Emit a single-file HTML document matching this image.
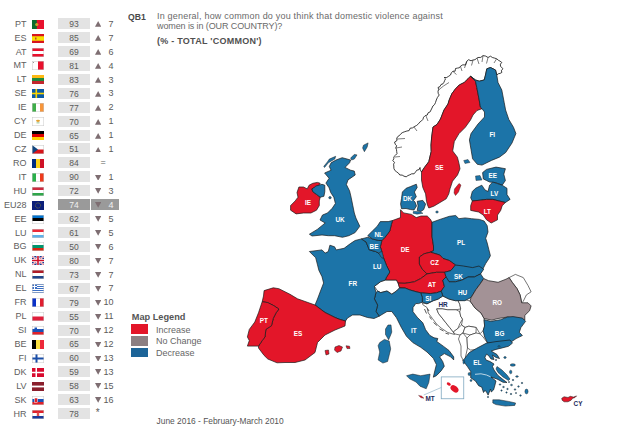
<!DOCTYPE html>
<html><head><meta charset="utf-8"><style>
html,body{margin:0;padding:0;background:#fff;}
body{width:640px;height:432px;position:relative;overflow:hidden;font-family:"Liberation Sans",sans-serif;}
.row{position:absolute;left:0;width:125px;height:11px;}
.cc{position:absolute;right:98.5px;top:0.6px;font-size:9px;line-height:11px;color:#606060;}
.flag{position:absolute;left:32px;top:1.5px;}
.val{position:absolute;left:57.7px;top:0;width:32.2px;height:11.1px;background:#e3e3e3;text-align:center;font-size:8.5px;line-height:12.2px;color:#5a5a5a;padding-left:0.5px;box-sizing:border-box;}
.eu .val{background:#9a9a9a;color:#f0f0f0;}
.chg{position:absolute;left:91.3px;top:0;width:27.3px;height:11.1px;background:#9a9a9a;}
.tri{position:absolute;left:94.8px;top:3.3px;}
.num{position:absolute;right:11.5px;top:0.8px;font-size:9px;line-height:11px;color:#5a5a5a;}
.eu .num{color:#f0f0f0;}
.eq{position:absolute;left:100.5px;top:0;font-size:9px;line-height:11px;color:#5a5a5a;}
.star{position:absolute;left:95.8px;top:-1.3px;font-size:10px;line-height:11px;color:#5a5a5a;}
.t{position:absolute;white-space:nowrap;}
</style></head><body>
<div class="row" style="top:18.1px"><span class="cc">PT</span><svg class="flag" width="12" height="9" viewBox="0 0 12 9"><rect width="12" height="9" fill="#e8112d"/><rect width="4.8" height="9" fill="#0b6b2e"/><circle cx="4.8" cy="4.5" r="1.6" fill="#c9a227"/></svg><span class="val">93</span><svg class="tri" width="6.3" height="5.8" viewBox="0 0 7 6" preserveAspectRatio="none"><polygon points="3.5,0 7,6 0,6" fill="#7e6e72"/></svg><span class="num">7</span></div><div class="row" style="top:32.0px"><span class="cc">ES</span><svg class="flag" width="12" height="9" viewBox="0 0 12 9"><rect width="12" height="9" fill="#d8141e"/><rect y="2.25" width="12" height="4.5" fill="#f8e000"/><rect x="3" y="3.5" width="1.5" height="2" fill="#c0462a"/></svg><span class="val">85</span><svg class="tri" width="6.3" height="5.8" viewBox="0 0 7 6" preserveAspectRatio="none"><polygon points="3.5,0 7,6 0,6" fill="#7e6e72"/></svg><span class="num">7</span></div><div class="row" style="top:46.0px"><span class="cc">AT</span><svg class="flag" width="12" height="9" viewBox="0 0 12 9"><rect x="0" y="0.00" width="12" height="3.05" fill="#e8112d"/><rect x="0" y="3.00" width="12" height="3.05" fill="#ffffff"/><rect x="0" y="6.00" width="12" height="3.05" fill="#e8112d"/><rect x="0.25" y="0.25" width="11.5" height="8.5" fill="none" stroke="#c8c8c8" stroke-width="0.5"/></svg><span class="val">69</span><svg class="tri" width="6.3" height="5.8" viewBox="0 0 7 6" preserveAspectRatio="none"><polygon points="3.5,0 7,6 0,6" fill="#7e6e72"/></svg><span class="num">6</span></div><div class="row" style="top:59.9px"><span class="cc">MT</span><svg class="flag" width="12" height="9" viewBox="0 0 12 9"><rect width="12" height="9" fill="#e8112d"/><rect width="6" height="9" fill="#fff"/><rect x="1" y="1" width="1" height="1" fill="#999"/><rect x="0.25" y="0.25" width="11.5" height="8.5" fill="none" stroke="#c8c8c8" stroke-width="0.5"/></svg><span class="val">81</span><svg class="tri" width="6.3" height="5.8" viewBox="0 0 7 6" preserveAspectRatio="none"><polygon points="3.5,0 7,6 0,6" fill="#7e6e72"/></svg><span class="num">4</span></div><div class="row" style="top:73.8px"><span class="cc">LT</span><svg class="flag" width="12" height="9" viewBox="0 0 12 9"><rect x="0" y="0.00" width="12" height="3.05" fill="#fdb913"/><rect x="0" y="3.00" width="12" height="3.05" fill="#1d8a3e"/><rect x="0" y="6.00" width="12" height="3.05" fill="#c1272d"/></svg><span class="val">83</span><svg class="tri" width="6.3" height="5.8" viewBox="0 0 7 6" preserveAspectRatio="none"><polygon points="3.5,0 7,6 0,6" fill="#7e6e72"/></svg><span class="num">3</span></div><div class="row" style="top:87.7px"><span class="cc">SE</span><svg class="flag" width="12" height="9" viewBox="0 0 12 9"><rect width="12" height="9" fill="#0a5aa6"/><rect x="3.5" width="1.6" height="9" fill="#f9d400"/><rect y="3.7" width="12" height="1.6" fill="#f9d400"/></svg><span class="val">76</span><svg class="tri" width="6.3" height="5.8" viewBox="0 0 7 6" preserveAspectRatio="none"><polygon points="3.5,0 7,6 0,6" fill="#7e6e72"/></svg><span class="num">3</span></div><div class="row" style="top:101.7px"><span class="cc">IE</span><svg class="flag" width="12" height="9" viewBox="0 0 12 9"><rect x="0.00" y="0" width="4.05" height="9" fill="#3fae49"/><rect x="4.00" y="0" width="4.05" height="9" fill="#ffffff"/><rect x="8.00" y="0" width="4.05" height="9" fill="#f7953a"/><rect x="0.25" y="0.25" width="11.5" height="8.5" fill="none" stroke="#c8c8c8" stroke-width="0.5"/></svg><span class="val">77</span><svg class="tri" width="6.3" height="5.8" viewBox="0 0 7 6" preserveAspectRatio="none"><polygon points="3.5,0 7,6 0,6" fill="#7e6e72"/></svg><span class="num">2</span></div><div class="row" style="top:115.6px"><span class="cc">CY</span><svg class="flag" width="12" height="9" viewBox="0 0 12 9"><rect width="12" height="9" fill="#fff"/><ellipse cx="6" cy="3.8" rx="2" ry="1.1" fill="#e0a030"/><rect x="4.5" y="5.5" width="3" height="0.8" fill="#7ab070"/><rect x="0.25" y="0.25" width="11.5" height="8.5" fill="none" stroke="#c8c8c8" stroke-width="0.5"/></svg><span class="val">70</span><svg class="tri" width="6.3" height="5.8" viewBox="0 0 7 6" preserveAspectRatio="none"><polygon points="3.5,0 7,6 0,6" fill="#7e6e72"/></svg><span class="num">1</span></div><div class="row" style="top:129.5px"><span class="cc">DE</span><svg class="flag" width="12" height="9" viewBox="0 0 12 9"><rect x="0" y="0.00" width="12" height="3.05" fill="#000000"/><rect x="0" y="3.00" width="12" height="3.05" fill="#dd0000"/><rect x="0" y="6.00" width="12" height="3.05" fill="#ffce00"/></svg><span class="val">65</span><svg class="tri" width="6.3" height="5.8" viewBox="0 0 7 6" preserveAspectRatio="none"><polygon points="3.5,0 7,6 0,6" fill="#7e6e72"/></svg><span class="num">1</span></div><div class="row" style="top:143.4px"><span class="cc">CZ</span><svg class="flag" width="12" height="9" viewBox="0 0 12 9"><rect width="12" height="9" fill="#fff"/><rect y="4.5" width="12" height="4.5" fill="#d7141a"/><polygon points="0,0 6,4.5 0,9" fill="#11457e"/><rect x="0.25" y="0.25" width="11.5" height="8.5" fill="none" stroke="#c8c8c8" stroke-width="0.5"/></svg><span class="val">51</span><svg class="tri" width="6.3" height="5.8" viewBox="0 0 7 6" preserveAspectRatio="none"><polygon points="3.5,0 7,6 0,6" fill="#7e6e72"/></svg><span class="num">1</span></div><div class="row" style="top:157.3px"><span class="cc">RO</span><svg class="flag" width="12" height="9" viewBox="0 0 12 9"><rect x="0.00" y="0" width="4.05" height="9" fill="#002b7f"/><rect x="4.00" y="0" width="4.05" height="9" fill="#fcd116"/><rect x="8.00" y="0" width="4.05" height="9" fill="#ce1126"/></svg><span class="val">84</span><span class="eq">=</span><span class="num"></span></div><div class="row" style="top:171.3px"><span class="cc">IT</span><svg class="flag" width="12" height="9" viewBox="0 0 12 9"><rect x="0.00" y="0" width="4.05" height="9" fill="#2ab04a"/><rect x="4.00" y="0" width="4.05" height="9" fill="#ffffff"/><rect x="8.00" y="0" width="4.05" height="9" fill="#ee3a1c"/><rect x="0.25" y="0.25" width="11.5" height="8.5" fill="none" stroke="#c8c8c8" stroke-width="0.5"/></svg><span class="val">90</span><svg class="tri" width="6.3" height="5.8" viewBox="0 0 7 6" preserveAspectRatio="none"><polygon points="0,0 7,0 3.5,6" fill="#7e6e72"/></svg><span class="num">1</span></div><div class="row" style="top:185.2px"><span class="cc">HU</span><svg class="flag" width="12" height="9" viewBox="0 0 12 9"><rect x="0" y="0.00" width="12" height="3.05" fill="#cd2a3e"/><rect x="0" y="3.00" width="12" height="3.05" fill="#ffffff"/><rect x="0" y="6.00" width="12" height="3.05" fill="#2fa64a"/><rect x="0.25" y="0.25" width="11.5" height="8.5" fill="none" stroke="#c8c8c8" stroke-width="0.5"/></svg><span class="val">72</span><svg class="tri" width="6.3" height="5.8" viewBox="0 0 7 6" preserveAspectRatio="none"><polygon points="0,0 7,0 3.5,6" fill="#7e6e72"/></svg><span class="num">3</span></div><div class="row eu" style="top:199.1px"><span class="cc">EU28</span><svg class="flag" width="12" height="9" viewBox="0 0 12 9"><rect width="12" height="9" fill="#0c1f7a"/><circle cx="6" cy="4.5" r="2.6" fill="none" stroke="#d4c000" stroke-width="0.6" stroke-dasharray="0.6 0.75"/></svg><span class="val">74</span><span class="chg"></span><svg class="tri" width="6.3" height="5.8" viewBox="0 0 7 6" preserveAspectRatio="none"><polygon points="0,0 7,0 3.5,6" fill="#7e6e72"/></svg><span class="num">4</span></div><div class="row" style="top:213.1px"><span class="cc">EE</span><svg class="flag" width="12" height="9" viewBox="0 0 12 9"><rect x="0" y="0.00" width="12" height="3.05" fill="#0072ce"/><rect x="0" y="3.00" width="12" height="3.05" fill="#000000"/><rect x="0" y="6.00" width="12" height="3.05" fill="#ffffff"/><rect x="0.25" y="0.25" width="11.5" height="8.5" fill="none" stroke="#c8c8c8" stroke-width="0.5"/></svg><span class="val">62</span><svg class="tri" width="6.3" height="5.8" viewBox="0 0 7 6" preserveAspectRatio="none"><polygon points="0,0 7,0 3.5,6" fill="#7e6e72"/></svg><span class="num">5</span></div><div class="row" style="top:227.0px"><span class="cc">LU</span><svg class="flag" width="12" height="9" viewBox="0 0 12 9"><rect x="0" y="0.00" width="12" height="3.05" fill="#ed2939"/><rect x="0" y="3.00" width="12" height="3.05" fill="#ffffff"/><rect x="0" y="6.00" width="12" height="3.05" fill="#5fb0e8"/><rect x="0.25" y="0.25" width="11.5" height="8.5" fill="none" stroke="#c8c8c8" stroke-width="0.5"/></svg><span class="val">61</span><svg class="tri" width="6.3" height="5.8" viewBox="0 0 7 6" preserveAspectRatio="none"><polygon points="0,0 7,0 3.5,6" fill="#7e6e72"/></svg><span class="num">5</span></div><div class="row" style="top:240.9px"><span class="cc">BG</span><svg class="flag" width="12" height="9" viewBox="0 0 12 9"><rect x="0" y="0.00" width="12" height="3.05" fill="#ffffff"/><rect x="0" y="3.00" width="12" height="3.05" fill="#00966e"/><rect x="0" y="6.00" width="12" height="3.05" fill="#d62612"/><rect x="0.25" y="0.25" width="11.5" height="8.5" fill="none" stroke="#c8c8c8" stroke-width="0.5"/></svg><span class="val">50</span><svg class="tri" width="6.3" height="5.8" viewBox="0 0 7 6" preserveAspectRatio="none"><polygon points="0,0 7,0 3.5,6" fill="#7e6e72"/></svg><span class="num">6</span></div><div class="row" style="top:254.8px"><span class="cc">UK</span><svg class="flag" width="12" height="9" viewBox="0 0 12 9"><rect width="12" height="9" fill="#1a3a8f"/><path d="M0,0L12,9M12,0L0,9" stroke="#fff" stroke-width="1.8"/><path d="M0,0L12,9M12,0L0,9" stroke="#d0102a" stroke-width="0.6"/><path d="M6,0V9M0,4.5H12" stroke="#fff" stroke-width="3"/><path d="M6,0V9M0,4.5H12" stroke="#d0102a" stroke-width="1.6"/></svg><span class="val">80</span><svg class="tri" width="6.3" height="5.8" viewBox="0 0 7 6" preserveAspectRatio="none"><polygon points="0,0 7,0 3.5,6" fill="#7e6e72"/></svg><span class="num">7</span></div><div class="row" style="top:268.8px"><span class="cc">NL</span><svg class="flag" width="12" height="9" viewBox="0 0 12 9"><rect x="0" y="0.00" width="12" height="3.05" fill="#ae1c28"/><rect x="0" y="3.00" width="12" height="3.05" fill="#ffffff"/><rect x="0" y="6.00" width="12" height="3.05" fill="#21468b"/><rect x="0.25" y="0.25" width="11.5" height="8.5" fill="none" stroke="#c8c8c8" stroke-width="0.5"/></svg><span class="val">73</span><svg class="tri" width="6.3" height="5.8" viewBox="0 0 7 6" preserveAspectRatio="none"><polygon points="0,0 7,0 3.5,6" fill="#7e6e72"/></svg><span class="num">7</span></div><div class="row" style="top:282.7px"><span class="cc">EL</span><svg class="flag" width="12" height="9" viewBox="0 0 12 9"><rect width="12" height="9" fill="#3b6fc4"/><rect y="1" width="12" height="1" fill="#fff"/><rect y="3" width="12" height="1" fill="#fff"/><rect y="5" width="12" height="1" fill="#fff"/><rect y="7" width="12" height="1" fill="#fff"/><rect width="5" height="5" fill="#3b6fc4"/><rect x="2" width="1" height="5" fill="#fff"/><rect y="2" width="5" height="1" fill="#fff"/><rect x="0.25" y="0.25" width="11.5" height="8.5" fill="none" stroke="#c8c8c8" stroke-width="0.5"/></svg><span class="val">67</span><svg class="tri" width="6.3" height="5.8" viewBox="0 0 7 6" preserveAspectRatio="none"><polygon points="0,0 7,0 3.5,6" fill="#7e6e72"/></svg><span class="num">7</span></div><div class="row" style="top:296.6px"><span class="cc">FR</span><svg class="flag" width="12" height="9" viewBox="0 0 12 9"><rect x="0.00" y="0" width="4.05" height="9" fill="#0a31c8"/><rect x="4.00" y="0" width="4.05" height="9" fill="#ffffff"/><rect x="8.00" y="0" width="4.05" height="9" fill="#e01e30"/><rect x="0.25" y="0.25" width="11.5" height="8.5" fill="none" stroke="#c8c8c8" stroke-width="0.5"/></svg><span class="val">79</span><svg class="tri" width="6.3" height="5.8" viewBox="0 0 7 6" preserveAspectRatio="none"><polygon points="0,0 7,0 3.5,6" fill="#7e6e72"/></svg><span class="num">10</span></div><div class="row" style="top:310.5px"><span class="cc">PL</span><svg class="flag" width="12" height="9" viewBox="0 0 12 9"><rect x="0" y="0.00" width="12" height="4.55" fill="#ffffff"/><rect x="0" y="4.50" width="12" height="4.55" fill="#e01e3a"/><rect x="0.25" y="0.25" width="11.5" height="8.5" fill="none" stroke="#c8c8c8" stroke-width="0.5"/></svg><span class="val">55</span><svg class="tri" width="6.3" height="5.8" viewBox="0 0 7 6" preserveAspectRatio="none"><polygon points="0,0 7,0 3.5,6" fill="#7e6e72"/></svg><span class="num">11</span></div><div class="row" style="top:324.5px"><span class="cc">SI</span><svg class="flag" width="12" height="9" viewBox="0 0 12 9"><rect x="0" y="0.00" width="12" height="3.05" fill="#ffffff"/><rect x="0" y="3.00" width="12" height="3.05" fill="#1a52b8"/><rect x="0" y="6.00" width="12" height="3.05" fill="#e0202a"/><rect x="2.5" y="1.5" width="2.5" height="3" fill="#1a52b8"/><rect x="0.25" y="0.25" width="11.5" height="8.5" fill="none" stroke="#c8c8c8" stroke-width="0.5"/></svg><span class="val">70</span><svg class="tri" width="6.3" height="5.8" viewBox="0 0 7 6" preserveAspectRatio="none"><polygon points="0,0 7,0 3.5,6" fill="#7e6e72"/></svg><span class="num">12</span></div><div class="row" style="top:338.4px"><span class="cc">BE</span><svg class="flag" width="12" height="9" viewBox="0 0 12 9"><rect x="0.00" y="0" width="4.05" height="9" fill="#000000"/><rect x="4.00" y="0" width="4.05" height="9" fill="#fae042"/><rect x="8.00" y="0" width="4.05" height="9" fill="#ed2939"/></svg><span class="val">65</span><svg class="tri" width="6.3" height="5.8" viewBox="0 0 7 6" preserveAspectRatio="none"><polygon points="0,0 7,0 3.5,6" fill="#7e6e72"/></svg><span class="num">12</span></div><div class="row" style="top:352.3px"><span class="cc">FI</span><svg class="flag" width="12" height="9" viewBox="0 0 12 9"><rect width="12" height="9" fill="#fff"/><rect x="3.5" width="2" height="9" fill="#1a4ea8"/><rect y="3.5" width="12" height="2" fill="#1a4ea8"/><rect x="0.25" y="0.25" width="11.5" height="8.5" fill="none" stroke="#c8c8c8" stroke-width="0.5"/></svg><span class="val">60</span><svg class="tri" width="6.3" height="5.8" viewBox="0 0 7 6" preserveAspectRatio="none"><polygon points="0,0 7,0 3.5,6" fill="#7e6e72"/></svg><span class="num">13</span></div><div class="row" style="top:366.2px"><span class="cc">DK</span><svg class="flag" width="12" height="9" viewBox="0 0 12 9"><rect width="12" height="9" fill="#d80a2e"/><rect x="3.5" width="1.5" height="9" fill="#fff"/><rect y="3.75" width="12" height="1.5" fill="#fff"/></svg><span class="val">59</span><svg class="tri" width="6.3" height="5.8" viewBox="0 0 7 6" preserveAspectRatio="none"><polygon points="0,0 7,0 3.5,6" fill="#7e6e72"/></svg><span class="num">13</span></div><div class="row" style="top:380.2px"><span class="cc">LV</span><svg class="flag" width="12" height="9" viewBox="0 0 12 9"><rect width="12" height="9" fill="#8a1e2c"/><rect y="3.6" width="12" height="1.8" fill="#fff"/></svg><span class="val">58</span><svg class="tri" width="6.3" height="5.8" viewBox="0 0 7 6" preserveAspectRatio="none"><polygon points="0,0 7,0 3.5,6" fill="#7e6e72"/></svg><span class="num">15</span></div><div class="row" style="top:394.1px"><span class="cc">SK</span><svg class="flag" width="12" height="9" viewBox="0 0 12 9"><rect x="0" y="0.00" width="12" height="3.05" fill="#ffffff"/><rect x="0" y="3.00" width="12" height="3.05" fill="#1a52b8"/><rect x="0" y="6.00" width="12" height="3.05" fill="#e0202a"/><rect x="2.5" y="2" width="3" height="4.5" fill="#e0202a" stroke="#fff" stroke-width="0.5"/><rect x="0.25" y="0.25" width="11.5" height="8.5" fill="none" stroke="#c8c8c8" stroke-width="0.5"/></svg><span class="val">63</span><svg class="tri" width="6.3" height="5.8" viewBox="0 0 7 6" preserveAspectRatio="none"><polygon points="0,0 7,0 3.5,6" fill="#7e6e72"/></svg><span class="num">16</span></div><div class="row" style="top:408.0px"><span class="cc">HR</span><svg class="flag" width="12" height="9" viewBox="0 0 12 9"><rect x="0" y="0.00" width="12" height="3.05" fill="#e0202a"/><rect x="0" y="3.00" width="12" height="3.05" fill="#ffffff"/><rect x="0" y="6.00" width="12" height="3.05" fill="#1a3a9a"/><rect x="4.8" y="2.5" width="2.4" height="3.5" fill="#e05050"/><rect x="0.25" y="0.25" width="11.5" height="8.5" fill="none" stroke="#c8c8c8" stroke-width="0.5"/></svg><span class="val">78</span><span class="star">*</span><span class="num"></span></div>
<div class="t" style="left:128px;top:11px;font-size:9.6px;font-weight:bold;color:#4a4a4a;transform:scaleX(0.9);transform-origin:0 0;">QB1</div>
<div class="t" style="left:157px;top:11px;font-size:9px;letter-spacing:0.2px;color:#6a6a6a;">In general, how common do you think that domestic violence against</div>
<div class="t" style="left:157px;top:21.3px;font-size:9px;letter-spacing:-0.1px;color:#6a6a6a;">women is in (OUR COUNTRY)?</div>
<div class="t" style="left:157px;top:35.6px;font-size:9px;letter-spacing:0.25px;font-weight:bold;color:#505050;">(% - TOTAL 'COMMON')</div>
<div class="t" style="left:131.8px;top:312px;font-size:9.2px;font-weight:bold;color:#555;">Map Legend</div>
<div style="position:absolute;left:131px;top:324.4px;width:16.6px;height:9.5px;background:#e31629"></div>
<div style="position:absolute;left:131px;top:336px;width:16.6px;height:9.5px;background:#8c7f82"></div>
<div style="position:absolute;left:131px;top:347.6px;width:16.6px;height:9.5px;background:#1c6498"></div>
<div class="t" style="left:156px;top:324.5px;font-size:9px;color:#666;">Increase</div>
<div class="t" style="left:156px;top:336px;font-size:9px;color:#666;">No Change</div>
<div class="t" style="left:156px;top:347.5px;font-size:9px;color:#666;">Decrease</div>
<div class="t" style="left:156.6px;top:416px;font-size:8.4px;color:#555;">June 2016 - February-March 2010</div>
<svg style="position:absolute;left:0;top:0" width="640" height="432" viewBox="0 0 640 432">
<polygon points="421.5,172.0 420.3,169.9 420.0,167.5 419.1,169.6 416.8,170.2 415.6,171.9 414.1,173.8 411.7,173.8 409.8,174.8 407.9,175.6 406.2,176.8 404.0,176.2 402.2,175.1 399.8,175.0 398.4,173.1 396.7,171.9 394.8,170.4 393.9,168.4 393.8,166.0 393.6,164.2 394.5,162.4 392.8,160.6 393.8,158.8 393.9,156.7 395.5,155.2 397.0,153.7 396.7,151.5 396.5,149.6 395.7,147.9 396.7,145.8 395.2,144.2 394.6,142.0 397.0,140.5 396.7,138.3 397.8,136.5 399.6,135.4 401.0,133.6 402.8,132.4 404.8,131.7 406.9,131.0 409.1,130.6 410.2,128.2 412.5,127.9 414.2,126.7 416.5,125.5 418.5,123.8 419.8,122.1 421.5,120.9 422.9,119.4 423.6,117.2 425.1,115.7 427.3,115.0 428.0,112.9 430.1,111.9 431.0,110.0 432.0,108.0 432.9,106.0 434.6,104.5 435.5,102.5 436.3,100.0 437.4,97.5 439.2,95.0 438.2,93.3 438.0,91.2 438.7,89.4 438.0,87.5 440.0,86.6 441.0,84.5 443.0,83.8 444.0,82.2 444.7,80.4 445.5,78.8 444.2,77.5 446.7,77.5 448.6,76.3 450.5,75.0 451.3,72.8 453.0,71.2 455.1,71.2 455.5,68.5 457.4,68.1 459.3,67.8 460.5,66.2 462.8,64.8 465.5,65.0 466.1,63.1 466.8,61.2 468.6,59.7 471.0,60.8 473.0,60.0 475.0,59.7 476.4,58.5 478.0,57.5 480.8,57.4 483.0,55.6 485.7,56.1 488.0,57.5 490.5,56.2 492.4,57.5 494.6,58.1 496.8,58.8 498.3,60.2 500.1,61.2 501.8,62.5 500.4,64.1 500.5,66.2 503.0,68.8 501.4,70.3 501.8,72.5 500.1,73.4 498.2,73.8 496.8,75.0 495.5,70.0 490.5,67.5 486.8,68.8 485.5,75.0 484.2,80.0 479.2,81.2 475.5,80.0 470.5,76.2 468.0,78.8 464.2,82.5 459.2,85.0 455.5,88.8 451.8,93.8 449.2,100.0 448.0,104.0 444.0,110.0 440.5,119.0 437.0,124.5 433.0,127.0 431.7,136.9 431.0,145.0 431.2,151.5 428.8,161.7 424.4,167.5" fill="#ffffff" stroke="#000" stroke-width="0.75" stroke-linejoin="round"/><polyline points="466.75,61.5 464.5,68" fill="none" stroke="#111" stroke-width="0.55"/><polyline points="473,60.2 471.5,65.5" fill="none" stroke="#111" stroke-width="0.55"/><polyline points="483,55.8 482,62" fill="none" stroke="#111" stroke-width="0.55"/><polyline points="488,57.7 486.5,63.5" fill="none" stroke="#111" stroke-width="0.55"/><polyline points="453,71.5 456.5,74.5" fill="none" stroke="#111" stroke-width="0.55"/><polyline points="438.5,90 443.5,86 449,82.5" fill="none" stroke="#111" stroke-width="0.55"/><polyline points="460.5,66.5 462,71" fill="none" stroke="#111" stroke-width="0.55"/><polyline points="477,58 479,64" fill="none" stroke="#111" stroke-width="0.55"/><polyline points="496.5,59 494,63" fill="none" stroke="#111" stroke-width="0.55"/><polyline points="397,139 405,138.5" fill="none" stroke="#111" stroke-width="0.55"/><polyline points="396,148 402,147" fill="none" stroke="#111" stroke-width="0.55"/><polyline points="395,157 400,156.5" fill="none" stroke="#111" stroke-width="0.55"/><polyline points="414,127 417,131" fill="none" stroke="#111" stroke-width="0.55"/><polyline points="426,116 428,121" fill="none" stroke="#111" stroke-width="0.55"/><polygon points="374.4,286.3 380.7,281.6 385.5,280.0 396.5,280.0 398.1,283.1 399.6,287.9 396.5,291.0 391.8,294.2 387.0,291.0 380.7,292.6 377.6,291.0" fill="#ffffff" stroke="#1a1a1a" stroke-width="0.6" stroke-linejoin="round"/><polygon points="509.1,277.6 515.4,274.4 523.3,277.6 528.0,285.5 531.1,291.8 526.4,294.9 523.3,301.2 521.7,302.8 520.1,294.9 517.0,288.6 512.2,282.3" fill="#ffffff" stroke="#1a1a1a" stroke-width="0.6" stroke-linejoin="round"/><polygon points="422.5,303.0 427.0,303.8 433.3,300.7 438.1,299.1 442.8,296.0 449.1,299.1 455.4,300.7 458.0,300.6 459.8,304.3 460.7,308.9 456.1,309.8 447.8,309.8 442.2,308.9 436.7,308.9 438.5,313.5 442.2,318.1 445.9,322.8 449.6,327.4 453.3,332.0 454.5,334.5 447.8,332.5 441.5,328.3 436.7,324.2 432.5,318.6 428.3,313.0 427.0,307.5 422.8,304.7" fill="#ffffff" stroke="#1a1a1a" stroke-width="0.6" stroke-linejoin="round"/><polyline points="424.5,309 426.5,313.5" fill="none" stroke="#111" stroke-width="0.7"/><polyline points="429.5,316.5 431.5,319.5" fill="none" stroke="#111" stroke-width="0.7"/><polyline points="433.5,322.5 437,325.5" fill="none" stroke="#111" stroke-width="0.7"/><polyline points="439.5,328.8 443.5,331" fill="none" stroke="#111" stroke-width="0.7"/><polyline points="445.5,333.2 449,334.2" fill="none" stroke="#111" stroke-width="0.7"/><polyline points="427.5,308.5 429,311" fill="none" stroke="#111" stroke-width="0.7"/><polygon points="436.7,308.9 442.2,308.9 447.8,309.8 456.1,309.8 459.8,311.7 460.7,316.3 462.6,319.1 459.8,323.7 458.0,328.3 453.3,332.0 449.6,327.4 445.9,322.8 442.2,318.1 438.5,313.5" fill="#ffffff" stroke="#1a1a1a" stroke-width="0.6" stroke-linejoin="round"/><polygon points="458.0,300.6 466.2,300.0 470.0,301.0 475.0,308.0 481.0,313.0 484.0,318.0 484.6,326.0 483.1,330.7 480.0,333.8 476.2,327.5 468.8,326.2 465.0,327.5 461.5,325.0 462.6,319.1 460.7,316.3 459.8,311.7 460.7,308.9 459.8,304.3" fill="#ffffff" stroke="#1a1a1a" stroke-width="0.6" stroke-linejoin="round"/><polygon points="458.0,328.3 461.5,325.0 465.0,327.5 463.0,333.0 460.0,335.0 455.0,334.0 453.3,332.0" fill="#ffffff" stroke="#1a1a1a" stroke-width="0.6" stroke-linejoin="round"/><polygon points="465.0,327.5 468.8,326.2 476.2,327.5 476.0,333.0 470.0,335.0 463.0,333.0" fill="#ffffff" stroke="#1a1a1a" stroke-width="0.6" stroke-linejoin="round"/><polygon points="460.0,335.0 463.0,333.0 467.0,338.0 467.5,348.0 465.7,356.0 464.4,362.6 461.0,356.0 461.0,346.0 458.5,339.0" fill="#ffffff" stroke="#1a1a1a" stroke-width="0.6" stroke-linejoin="round"/><polygon points="467.0,338.0 470.0,335.0 476.0,333.0 480.0,333.8 483.1,337.0 487.8,343.3 476.8,349.6 470.5,350.0 467.5,348.0" fill="#ffffff" stroke="#1a1a1a" stroke-width="0.6" stroke-linejoin="round"/><polygon points="470.5,76.2 475.5,81.2 476.8,87.5 478.0,93.8 479.2,100.0 480.4,107.1 482.0,108.7 477.0,110.5 473.0,115.0 470.5,120.0 465.3,127.3 459.0,133.6 454.3,141.5 452.7,151.0 457.4,157.2 459.0,163.5 460.0,168.8 457.5,175.0 452.5,181.2 450.0,188.8 448.8,193.8 446.2,198.8 440.0,202.5 433.8,206.2 428.8,208.0 427.5,205.0 426.5,201.3 425.6,193.9 422.8,187.4 421.5,180.0 421.5,172.0 424.4,167.5 428.8,161.7 431.2,151.5 431.0,145.0 431.7,136.9 433.0,127.0 437.0,124.5 440.5,119.0 444.0,110.0 448.0,104.0 449.2,100.0 451.8,93.8 455.5,88.8 459.2,85.0 464.2,82.5 468.0,78.8" fill="#e31629" stroke="#1a1a1a" stroke-width="0.7" stroke-linejoin="round"/><polygon points="454.5,189.0 459.0,183.5 461.0,185.0 458.5,192.0 455.5,195.5 454.0,193.0" fill="#e31629" stroke="#1a1a1a" stroke-width="0.4" stroke-linejoin="round"/><polygon points="470.5,76.2 475.5,80.0 479.2,81.2 484.2,80.0 485.5,75.0 486.8,68.8 490.5,67.5 495.5,70.0 496.8,75.0 498.0,82.5 501.8,90.0 504.2,102.5 505.6,110.0 508.8,119.4 513.5,127.3 515.9,133.6 512.0,143.0 505.7,152.5 499.4,157.2 491.5,160.4 482.0,165.1 477.3,164.3 472.6,158.8 471.0,149.4 469.4,139.9 471.0,133.6 478.0,124.0 484.5,117.0 484.5,112.0 482.0,108.7 480.4,107.1 479.2,100.0 478.0,93.8 476.8,87.5 475.5,81.2" fill="#1c74a8" stroke="#1a1a1a" stroke-width="0.7" stroke-linejoin="round"/><polygon points="463.7,160.5 468.0,159.5 470.0,162.5 465.0,163.5" fill="#1c74a8" stroke="#1a1a1a" stroke-width="0.4" stroke-linejoin="round"/><polygon points="482.6,172.6 486.5,169.4 496.0,167.1 505.4,168.7 503.8,174.2 505.4,180.5 502.2,185.2 496.0,182.8 489.6,182.0 486.5,180.5 483.3,178.9" fill="#1c74a8" stroke="#1a1a1a" stroke-width="0.7" stroke-linejoin="round"/><polygon points="475.5,176.0 480.0,175.5 482.0,180.0 476.0,180.5" fill="#1c74a8" stroke="#1a1a1a" stroke-width="0.4" stroke-linejoin="round"/><polygon points="470.7,197.8 472.3,191.5 475.5,188.3 481.8,185.2 485.0,190.0 488.0,191.5 489.6,185.2 492.8,182.0 497.5,183.6 502.2,185.2 507.0,188.3 507.0,194.6 510.1,199.4 505.4,202.5 499.1,201.0 492.8,199.4 486.5,199.4 480.2,200.2 472.3,201.0" fill="#1c74a8" stroke="#1a1a1a" stroke-width="0.7" stroke-linejoin="round"/><polygon points="472.3,201.0 480.2,200.2 486.5,199.4 492.8,199.4 499.1,201.0 505.4,202.5 502.2,205.7 500.7,210.4 497.5,215.1 497.5,219.8 491.2,223.0 486.5,219.8 483.3,215.1 478.6,212.0 470.7,210.4 470.7,205.7" fill="#e31629" stroke="#1a1a1a" stroke-width="0.7" stroke-linejoin="round"/><polygon points="401.5,198.5 402.4,192.0 406.1,188.3 410.7,186.5 416.3,184.2 417.2,187.4 414.4,192.0 416.3,196.7 413.5,200.4 415.0,202.0 416.5,206.0 414.0,210.0 410.7,209.6 406.0,208.5 401.5,208.7 400.6,204.1" fill="#1c74a8" stroke="#1a1a1a" stroke-width="0.7" stroke-linejoin="round"/><polygon points="417.2,201.3 422.8,200.4 425.6,204.1 423.7,209.6 420.9,211.5 417.2,210.6 418.1,205.9" fill="#1c74a8" stroke="#1a1a1a" stroke-width="0.7" stroke-linejoin="round"/><polygon points="413.5,211.2 420.0,211.8 423.0,213.3 417.0,214.2 413.0,213.2" fill="#1c74a8" stroke="#1a1a1a" stroke-width="0.4" stroke-linejoin="round"/><ellipse cx="437" cy="212" rx="1.3" ry="1.1" fill="#1c74a8" stroke="#1a1a1a" stroke-width="0.4"/><polygon points="400.5,209.7 403.6,212.9 411.5,214.4 416.2,217.6 421.0,216.0 427.2,216.0 430.4,219.2 432.0,222.3 432.0,236.5 433.5,246.0 433.5,250.7 430.4,252.2 424.1,253.8 419.4,257.0 419.4,264.0 422.3,269.2 427.0,273.9 420.7,278.6 414.4,281.8 405.0,283.3 398.1,283.1 396.5,280.0 385.5,280.0 386.0,278.0 389.8,272.0 386.6,265.7 383.5,257.8 381.9,251.5 380.3,246.8 381.9,240.5 385.0,237.3 389.8,231.0 391.3,224.7 392.5,220.5 400.5,217.6" fill="#e31629" stroke="#1a1a1a" stroke-width="0.7" stroke-linejoin="round"/><polygon points="432.0,222.3 440.0,219.4 449.4,216.3 455.7,215.5 458.9,218.7 465.2,217.9 471.5,218.7 479.4,219.4 484.1,221.0 487.2,225.7 488.0,232.0 485.7,238.3 487.2,243.0 488.8,249.4 490.4,255.7 488.8,258.8 485.7,263.5 482.5,269.8 477.8,269.8 471.5,268.3 463.6,266.7 458.9,266.7 455.5,265.0 449.3,260.5 443.0,258.5 439.8,255.0 430.4,252.2 433.5,250.7 433.5,246.0 432.0,236.5" fill="#1c74a8" stroke="#1a1a1a" stroke-width="0.7" stroke-linejoin="round"/><polygon points="419.4,257.0 424.1,253.8 430.4,252.2 439.8,255.0 443.0,258.5 449.3,260.5 455.5,265.0 450.7,270.7 444.4,272.3 436.5,272.3 427.0,273.9 422.3,269.2 419.4,264.0" fill="#e31629" stroke="#1a1a1a" stroke-width="0.7" stroke-linejoin="round"/><polygon points="446.0,277.0 444.4,272.3 450.7,270.7 455.5,265.0 463.3,266.0 472.7,267.6 479.0,266.0 483.7,269.2 480.6,273.9 474.3,277.0 468.0,277.0 461.7,280.2 455.4,281.8 449.1,281.8" fill="#1c74a8" stroke="#1a1a1a" stroke-width="0.7" stroke-linejoin="round"/><polygon points="405.0,283.3 414.4,281.8 420.7,278.6 427.0,273.9 436.5,272.3 444.4,272.3 446.0,277.0 442.8,280.2 444.4,286.5 441.2,291.2 436.5,292.8 430.2,293.6 420.7,292.8 417.0,292.0 410.0,290.0 405.0,288.0 399.6,287.9 398.1,283.1" fill="#e31629" stroke="#1a1a1a" stroke-width="0.7" stroke-linejoin="round"/><polygon points="444.4,286.5 442.8,280.2 446.0,277.0 449.1,281.8 455.4,281.8 461.7,280.2 468.0,277.0 474.3,277.0 480.6,273.9 483.7,278.6 480.6,283.3 475.9,289.6 471.1,297.5 464.8,300.7 455.4,300.7 449.1,299.1 442.8,296.0 441.2,291.2" fill="#1c74a8" stroke="#1a1a1a" stroke-width="0.7" stroke-linejoin="round"/><polygon points="483.7,278.6 488.6,280.7 498.1,282.3 506.0,279.2 509.1,277.6 512.2,282.3 517.0,288.6 520.1,294.9 521.7,302.8 528.0,302.8 531.1,305.9 529.6,310.7 524.8,315.4 524.8,320.1 517.0,318.5 507.5,317.0 498.1,318.5 491.8,320.1 484.0,318.5 481.0,313.0 475.0,308.0 470.0,301.0 471.1,297.5 475.9,289.6 480.6,283.3" fill="#a39296" stroke="#1a1a1a" stroke-width="0.7" stroke-linejoin="round"/><polygon points="484.0,319.7 491.0,321.3 500.4,319.7 507.5,317.0 513.0,316.6 522.4,318.1 525.6,321.3 520.9,327.6 519.3,332.3 522.4,335.5 516.1,338.6 511.4,341.8 503.5,342.6 497.2,342.6 487.8,343.3 484.6,337.0 483.1,330.7 484.6,326.0" fill="#1c74a8" stroke="#1a1a1a" stroke-width="0.7" stroke-linejoin="round"/><polygon points="469.2,352.6 476.7,348.3 486.5,343.1 496.0,341.6 510.0,340.0 512.5,343.1 508.5,346.3 502.2,347.9 496.0,349.4 491.2,351.0 497.0,354.5 499.5,358.5 496.0,357.5 492.5,355.0 494.0,359.5 491.0,359.0 488.5,355.5 486.5,354.2 484.9,357.3 486.0,360.0 490.0,361.5 494.0,364.0 492.5,366.5 494.0,370.0 498.0,375.5 503.0,379.5 507.0,382.5 503.0,382.3 497.0,379.0 491.0,377.0 496.0,381.0 494.4,387.2 493.5,390.0 491.2,392.0 490.5,389.0 488.1,395.1 486.5,392.0 485.0,390.4 483.5,392.5 481.8,387.2 478.6,385.7 475.5,381.0 470.7,377.8 470.7,374.6 470.7,371.5 467.6,366.8 462.9,360.5 464.4,358.9" fill="#1c74a8" stroke="#1a1a1a" stroke-width="0.7" stroke-linejoin="round"/><polyline points="475,374.3 481,373.8 486.5,375 490.5,376.8" fill="none" stroke="#fff" stroke-width="0.7"/><polygon points="497.0,366.5 502.0,370.0 507.0,375.0 510.0,379.0 508.5,380.5 503.0,377.0 498.0,372.5 496.0,369.0" fill="#1c74a8" stroke="#1a1a1a" stroke-width="0.5" stroke-linejoin="round"/><polygon points="492.8,399.8 499.1,399.8 508.5,401.4 515.6,403.0 514.8,405.4 505.4,406.1 496.0,404.6 492.8,403.0" fill="#1c74a8" stroke="#1a1a1a" stroke-width="0.5" stroke-linejoin="round"/><ellipse cx="512.8" cy="365" rx="2.6" ry="1.3" fill="#1c74a8" stroke="#1a1a1a" stroke-width="0.4"/><ellipse cx="510.7" cy="372" rx="1.2" ry="1.8" fill="#1c74a8" stroke="#1a1a1a" stroke-width="0.4"/><ellipse cx="517" cy="376.5" rx="1.4" ry="0.8" fill="#1c74a8" stroke="#1a1a1a" stroke-width="0.4"/><ellipse cx="526.5" cy="391.5" rx="1.6" ry="2.4" fill="#1c74a8" stroke="#1a1a1a" stroke-width="0.4"/><ellipse cx="505" cy="357.5" rx="1.3" ry="0.9" fill="#1c74a8" stroke="#1a1a1a" stroke-width="0.4"/><ellipse cx="499" cy="346.4" rx="1.1" ry="0.8" fill="#1c74a8" stroke="#1a1a1a" stroke-width="0.4"/><ellipse cx="500" cy="384.5" rx="0.8" ry="0.7" fill="#1c74a8" stroke="#1a1a1a" stroke-width="0.4"/><ellipse cx="503.5" cy="387" rx="0.9" ry="0.7" fill="#1c74a8" stroke="#1a1a1a" stroke-width="0.4"/><ellipse cx="507.5" cy="389" rx="0.8" ry="0.7" fill="#1c74a8" stroke="#1a1a1a" stroke-width="0.4"/><ellipse cx="511.5" cy="385" rx="1" ry="0.8" fill="#1c74a8" stroke="#1a1a1a" stroke-width="0.4"/><ellipse cx="515" cy="389.5" rx="0.8" ry="0.8" fill="#1c74a8" stroke="#1a1a1a" stroke-width="0.4"/><ellipse cx="518.5" cy="386.5" rx="0.8" ry="0.8" fill="#1c74a8" stroke="#1a1a1a" stroke-width="0.4"/><ellipse cx="506.5" cy="392.5" rx="0.7" ry="0.7" fill="#1c74a8" stroke="#1a1a1a" stroke-width="0.4"/><ellipse cx="501.5" cy="390.5" rx="0.7" ry="0.7" fill="#1c74a8" stroke="#1a1a1a" stroke-width="0.4"/><ellipse cx="511" cy="394" rx="0.8" ry="0.7" fill="#1c74a8" stroke="#1a1a1a" stroke-width="0.4"/><ellipse cx="520.5" cy="395.5" rx="0.8" ry="0.8" fill="#1c74a8" stroke="#1a1a1a" stroke-width="0.4"/><ellipse cx="463.8" cy="362" rx="0.9" ry="2" fill="#1c74a8" stroke="#1a1a1a" stroke-width="0.4"/><ellipse cx="469.3" cy="374" rx="1.2" ry="1.6" fill="#1c74a8" stroke="#1a1a1a" stroke-width="0.4"/><ellipse cx="471" cy="380.5" rx="1" ry="1" fill="#1c74a8" stroke="#1a1a1a" stroke-width="0.4"/><ellipse cx="488" cy="397" rx="0.7" ry="0.7" fill="#1c74a8" stroke="#1a1a1a" stroke-width="0.4"/><ellipse cx="496" cy="360" rx="0.7" ry="0.7" fill="#1c74a8" stroke="#1a1a1a" stroke-width="0.4"/><ellipse cx="513" cy="380" rx="0.8" ry="0.7" fill="#1c74a8" stroke="#1a1a1a" stroke-width="0.4"/><ellipse cx="509" cy="382" rx="0.7" ry="0.6" fill="#1c74a8" stroke="#1a1a1a" stroke-width="0.4"/><ellipse cx="522" cy="383" rx="0.8" ry="0.7" fill="#1c74a8" stroke="#1a1a1a" stroke-width="0.4"/><ellipse cx="516" cy="393" rx="0.7" ry="0.6" fill="#1c74a8" stroke="#1a1a1a" stroke-width="0.4"/><polygon points="420.7,292.8 430.2,293.6 436.5,292.8 441.2,291.2 442.8,296.0 438.1,299.1 433.3,300.7 427.0,303.8 422.3,302.2 422.3,297.5" fill="#1c74a8" stroke="#1a1a1a" stroke-width="0.7" stroke-linejoin="round"/><polygon points="376.0,292.6 377.6,291.0 380.7,292.6 387.0,291.0 391.8,294.2 396.5,291.0 399.6,287.9 405.0,288.0 410.0,290.0 417.0,292.0 420.7,292.8 422.3,297.5 422.3,302.2 418.5,303.6 415.8,303.5 413.0,307.5 413.0,311.7 417.2,317.2 422.8,322.8 425.6,329.7 429.7,335.3 434.0,337.8 437.8,338.5 436.8,341.5 443.6,346.4 449.0,350.5 453.7,356.8 453.7,359.9 450.6,356.8 444.3,353.6 439.6,356.8 442.7,361.5 444.3,366.2 441.1,370.9 436.4,375.7 433.3,377.2 434.8,370.9 436.4,364.6 433.3,358.3 427.0,352.0 420.7,347.3 412.8,342.6 406.5,336.3 401.2,327.2 396.5,317.8 391.8,311.5 387.0,311.5 379.2,316.2 376.0,311.5 377.6,305.2 374.4,298.9" fill="#1c74a8" stroke="#1a1a1a" stroke-width="0.7" stroke-linejoin="round"/><polygon points="388.0,325.0 391.0,324.9 391.8,332.0 390.7,335.0 388.6,339.8 385.5,334.5 385.5,329.0" fill="#1c74a8" stroke="#1a1a1a" stroke-width="0.5" stroke-linejoin="round"/><polygon points="379.7,342.6 384.4,339.4 389.2,341.0 390.7,348.9 389.2,355.2 387.6,361.5 382.9,363.1 378.1,359.9 379.7,352.0 378.1,345.7" fill="#1c74a8" stroke="#1a1a1a" stroke-width="0.5" stroke-linejoin="round"/><polygon points="406.5,375.7 412.8,374.1 420.7,375.7 430.1,374.1 428.8,382.5 426.2,388.8 420.0,386.2 416.0,382.0 409.6,378.8" fill="#1c74a8" stroke="#1a1a1a" stroke-width="0.5" stroke-linejoin="round"/><polygon points="309.4,251.5 322.0,249.9 325.2,253.1 328.3,251.5 329.9,245.2 334.6,246.8 336.2,249.9 344.1,248.3 350.4,243.6 355.1,240.5 361.4,238.9 366.1,242.0 369.3,249.9 375.6,251.5 378.7,253.1 381.9,257.8 383.5,257.8 386.6,265.7 389.8,272.0 386.0,278.0 385.5,280.0 380.7,281.6 374.4,286.3 376.0,292.6 374.4,298.9 377.6,305.2 376.0,311.5 379.2,316.2 374.0,318.5 367.5,317.5 360.0,315.0 352.5,315.0 347.5,318.0 345.5,321.0 340.0,319.5 335.0,317.5 325.0,312.5 315.0,305.0 317.5,299.0 320.5,291.0 323.6,283.0 322.0,276.7 318.9,270.4 317.3,264.1 315.7,257.8" fill="#1c74a8" stroke="#1a1a1a" stroke-width="0.7" stroke-linejoin="round"/><polygon points="361.4,238.9 367.7,237.3 372.4,238.9 378.7,240.5 381.9,240.5 380.3,246.8 381.9,251.5 378.7,253.1 375.6,251.5 369.3,249.9 366.1,242.0" fill="#1c74a8" stroke="#1a1a1a" stroke-width="0.7" stroke-linejoin="round"/><polygon points="378.7,253.1 381.9,251.5 383.5,257.8 381.9,257.8" fill="#1c74a8" stroke="#1a1a1a" stroke-width="0.4" stroke-linejoin="round"/><polygon points="367.7,235.7 372.4,231.0 377.2,226.3 380.3,221.6 388.2,221.6 392.5,220.5 391.3,224.7 389.8,231.0 385.0,237.3 381.9,240.5 378.7,240.5 372.4,238.9" fill="#1c74a8" stroke="#1a1a1a" stroke-width="0.7" stroke-linejoin="round"/><polygon points="264.1,290.6 273.3,287.8 278.9,288.7 290.0,294.3 297.5,298.8 315.0,305.0 325.0,312.5 335.0,317.5 340.0,319.5 345.5,321.0 345.0,326.0 335.0,330.0 325.0,335.0 317.5,342.5 315.0,352.5 305.0,360.0 295.0,362.5 285.0,362.5 277.0,362.8 267.8,359.0 264.1,355.4 258.5,348.0 258.5,346.1 262.2,340.6 265.0,336.9 265.9,329.4 271.5,325.7 273.3,318.3 276.1,312.8 278.9,309.0 273.3,305.4 267.8,302.6 262.2,301.7 263.5,296.0" fill="#e31629" stroke="#1a1a1a" stroke-width="0.7" stroke-linejoin="round"/><polygon points="262.2,301.7 267.8,302.6 273.3,305.4 278.9,309.0 276.1,312.8 273.3,318.3 271.5,325.7 265.9,329.4 265.0,336.9 262.2,340.6 258.5,346.1 247.4,346.1 249.3,340.6 247.4,336.9 249.3,329.4 254.8,322.0 258.5,312.8" fill="#e31629" stroke="#1a1a1a" stroke-width="0.7" stroke-linejoin="round"/><polygon points="325.0,350.5 328.5,350.0 329.0,354.0 326.0,355.0" fill="#e31629" stroke="#1a1a1a" stroke-width="0.5" stroke-linejoin="round"/><polygon points="335.0,347.0 339.0,345.5 342.5,347.0 341.0,351.0 337.0,352.5 334.5,350.0" fill="#e31629" stroke="#1a1a1a" stroke-width="0.5" stroke-linejoin="round"/><polygon points="346.0,345.8 349.5,346.2 350.0,348.5 347.0,348.6" fill="#e31629" stroke="#1a1a1a" stroke-width="0.5" stroke-linejoin="round"/><polygon points="331.1,162.8 336.0,160.0 342.2,157.7 347.0,159.0 350.6,160.0 349.6,162.8 345.0,167.4 350.6,170.2 354.3,171.1 355.2,175.0 348.0,179.9 346.4,184.6 349.6,190.9 351.1,197.2 352.7,205.1 354.3,213.0 355.9,218.0 358.3,223.1 359.8,226.3 355.1,232.6 348.8,235.7 342.5,237.3 334.6,235.7 328.3,235.7 322.0,235.0 312.0,236.0 309.4,234.2 317.3,229.4 325.2,223.0 320.0,220.0 322.5,215.0 327.5,213.0 332.2,208.3 335.4,203.5 333.8,197.2 330.7,192.5 329.1,187.8 325.9,183.1 329.1,178.3 324.6,173.0 331.1,170.2 329.3,166.5" fill="#1c74a8" stroke="#1a1a1a" stroke-width="0.7" stroke-linejoin="round"/><polygon points="363.5,145.2 368.1,142.9 367.2,147.0 364.4,151.7 362.6,148.0" fill="#1c74a8" stroke="#1a1a1a" stroke-width="0.5" stroke-linejoin="round"/><polygon points="350.6,158.1 354.3,154.4 357.0,154.9 354.3,159.1 351.5,160.0" fill="#1c74a8" stroke="#1a1a1a" stroke-width="0.5" stroke-linejoin="round"/><polygon points="329.3,159.1 335.7,156.3 334.8,159.1 328.3,162.8 324.6,167.4 323.7,166.5 327.4,161.9" fill="#1c74a8" stroke="#1a1a1a" stroke-width="0.5" stroke-linejoin="round"/><polygon points="298.9,187.0 303.5,187.0 307.2,188.9 309.1,185.2 312.8,183.3 317.4,182.4 320.2,183.3 318.3,186.1 313.7,188.0 311.9,188.9 312.8,191.7 316.5,194.4 320.2,197.2 319.3,200.9 319.3,205.6 316.5,210.2 310.9,213.0 303.5,213.0 296.1,213.9 290.6,210.2 290.6,205.6 295.2,200.9 298.0,197.2 297.0,192.6" fill="#e31629" stroke="#1a1a1a" stroke-width="0.7" stroke-linejoin="round"/><polygon points="311.9,188.9 313.7,188.0 315.6,186.1 322.0,184.3 324.8,185.2 324.8,191.7 323.9,196.3 320.2,197.2 316.5,194.4 312.8,191.7" fill="#1c74a8" stroke="#1a1a1a" stroke-width="0.7" stroke-linejoin="round"/><ellipse cx="330" cy="197.7" rx="1.3" ry="1.1" fill="#1c74a8" stroke="#1a1a1a" stroke-width="0.5"/><polygon points="561.7,398.3 564.1,396.7 568.0,397.5 570.3,396.3 573.4,397.1 576.6,395.9 575.0,397.5 572.7,398.3 571.1,400.2 568.0,401.8 564.1,401.8 562.1,400.2" fill="#e31629" stroke="#1a1a1a" stroke-width="0.5" stroke-linejoin="round"/><polygon points="418.5,395.4 421.5,396.0 424.0,398.3 421.0,397.8" fill="#e31629" stroke="#1a1a1a" stroke-width="0.3" stroke-linejoin="round"/>
<rect x="441.25" y="376.9" width="22.5" height="21.85" fill="#fff" stroke="#7fa8c0" stroke-width="0.8"/>
<line x1="441.25" y1="387.5" x2="423.75" y2="395" stroke="#7fa8c0" stroke-width="0.6"/>
<ellipse cx="448.8" cy="384" rx="2.2" ry="1.4" fill="#e31629" transform="rotate(30 448.8 384)"/>
<ellipse cx="454.5" cy="388.8" rx="4.5" ry="3" fill="#e31629" transform="rotate(40 454.5 388.8)"/>
<g font-family="Liberation Sans" font-weight="bold" font-size="8" text-anchor="middle"><text transform="translate(492.3,136.9) scale(0.8,1)" fill="#fff">FI</text><text transform="translate(439.3,170.0) scale(0.8,1)" fill="#fff">SE</text><text transform="translate(492.8,178.2) scale(0.8,1)" fill="#fff">EE</text><text transform="translate(494.4,195.5) scale(0.8,1)" fill="#fff">LV</text><text transform="translate(487.3,213.7) scale(0.8,1)" fill="#fff">LT</text><text transform="translate(407.5,201.2) scale(0.8,1)" fill="#fff">DK</text><text transform="translate(308.1,205.3) scale(0.8,1)" fill="#fff">IE</text><text transform="translate(340,222.0) scale(0.8,1)" fill="#fff">UK</text><text transform="translate(378.7,236.7) scale(0.8,1)" fill="#fff">NL</text><text transform="translate(374,248.5) scale(0.8,1)" fill="#fff">BE</text><text transform="translate(377.2,269.0) scale(0.8,1)" fill="#fff">LU</text><text transform="translate(405.2,251.6) scale(0.8,1)" fill="#fff">DE</text><text transform="translate(461.1,244.5) scale(0.8,1)" fill="#fff">PL</text><text transform="translate(434.6,264.8) scale(0.8,1)" fill="#fff">CZ</text><text transform="translate(458.5,278.8) scale(0.8,1)" fill="#fff">SK</text><text transform="translate(431.8,286.6) scale(0.8,1)" fill="#fff">AT</text><text transform="translate(462.5,294.5) scale(0.8,1)" fill="#fff">HU</text><text transform="translate(428.3,300.7) scale(0.8,1)" fill="#fff">SI</text><text transform="translate(497.2,305.4) scale(0.8,1)" fill="#fff">RO</text><text transform="translate(352.8,286.3) scale(0.8,1)" fill="#fff">FR</text><text transform="translate(263.75,323.0) scale(0.8,1)" fill="#fff">PT</text><text transform="translate(298,335.5) scale(0.8,1)" fill="#fff">ES</text><text transform="translate(413.8,332.9) scale(0.8,1)" fill="#fff">IT</text><text transform="translate(499.6,335.6) scale(0.8,1)" fill="#fff">BG</text><text transform="translate(477.4,365.4) scale(0.8,1)" fill="#fff">EL</text><text transform="translate(443.1,306.7) scale(0.8,1)" fill="#1a2a5a">HR</text><text transform="translate(430,401.0) scale(0.8,1)" fill="#1a2a5a">MT</text><text transform="translate(578,406.2) scale(0.8,1)" fill="#1a2a5a">CY</text></g>
</svg>
</body></html>
